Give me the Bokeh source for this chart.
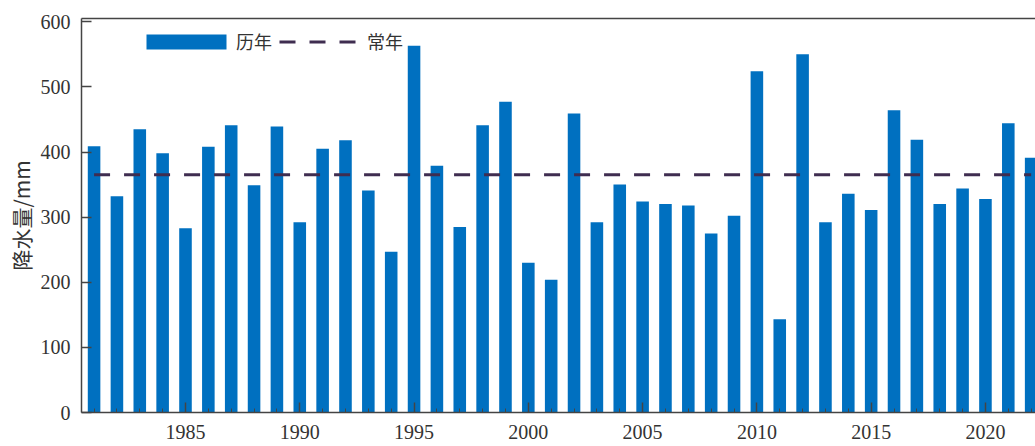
from bokeh.plotting import figure
from bokeh.models import Range1d, LinearAxis, Legend, LegendItem, FixedTicker
from bokeh.embed import file_html
from bokeh.resources import INLINE

years = list(range(1981, 2023))
precip = [409, 332, 435, 398, 283, 408, 441, 349, 439, 292,
          405, 418, 341, 247, 563, 379, 285, 441, 477, 230,
          204, 459, 292, 350, 324, 320, 318, 275, 302, 524,
          143, 550, 292, 336, 311, 464, 419, 320, 344, 328,
          444, 391]
normal_value = 365
y_ticks = [0, 100, 200, 300, 400, 500, 600]
x_ticks = [1985, 1990, 1995, 2000, 2005, 2010, 2015, 2020]

BLUE = "#0070C0"
DASH = "#3F2D50"
AXC = "#444444"
TXT = "#333333"

p = figure(width=1035, height=446, output_backend="svg", toolbar_location=None,
           x_range=Range1d(1980.45, 2022.19), y_range=Range1d(0, 605),
           min_border_left=81, min_border_right=0, min_border_top=18, min_border_bottom=34)
p.xgrid.visible = False
p.ygrid.visible = False
p.outline_line_color = None
p.background_fill_color = "white"

bars = p.vbar(x=years, top=precip, width=0.55, fill_color=BLUE, line_color=None)
ln = p.line(x=[years[0], years[-1]], y=[normal_value, normal_value],
            line_color=DASH, line_width=3, line_dash="16 14")

xa = p.xaxis[0]
xa.ticker = FixedTicker(ticks=x_ticks, minor_ticks=years)
xa.major_tick_in = 10
xa.major_tick_out = 0
xa.minor_tick_in = 4
xa.minor_tick_out = 0
xa.axis_line_color = AXC
xa.axis_line_width = 1.5
xa.major_tick_line_color = AXC
xa.minor_tick_line_color = AXC
xa.major_tick_line_width = 1.5
xa.major_label_text_font = "Liberation Serif"
xa.major_label_text_font_size = "20px"
xa.major_label_text_color = TXT
xa.major_label_standoff = 12

ya = p.yaxis[0]
ya.ticker = FixedTicker(ticks=y_ticks)
ya.major_tick_in = 10
ya.major_tick_out = 0
ya.minor_tick_line_color = None
ya.axis_line_color = AXC
ya.axis_line_width = 1.5
ya.major_tick_line_color = AXC
ya.major_tick_line_width = 1.5
ya.major_label_text_font = "Liberation Serif"
ya.major_label_text_font_size = "20px"
ya.major_label_text_color = TXT
ya.major_label_standoff = 11
ya.axis_label = "降水量/mm"
ya.axis_label_text_font = "Noto Sans CJK SC"
ya.axis_label_text_font_size = "21px"
ya.axis_label_text_font_style = "normal"
ya.axis_label_text_color = TXT
ya.axis_label_standoff = 2

top_axis = LinearAxis(ticker=FixedTicker(ticks=[]), major_tick_line_color=None,
                      minor_tick_line_color=None, axis_line_color=AXC,
                      axis_line_width=1.5)
p.add_layout(top_axis, "above")

common = dict(orientation="horizontal", padding=0, margin=0,
              border_line_color=None, background_fill_alpha=0,
              label_text_font="Noto Sans CJK SC", label_text_font_size="18px",
              label_text_color=TXT, glyph_height=19, label_height=19)

legend_bar = Legend(items=[LegendItem(label="历年", renderers=[bars])],
                    location=(55, 358), glyph_width=100, label_standoff=-3, **common)
legend_line = Legend(items=[LegendItem(label="常年", renderers=[ln])],
                     location=(198, 358), glyph_width=81, label_standoff=7, **common)
p.add_layout(legend_bar)
p.add_layout(legend_line)

open("out.html", "w").write(file_html(p, INLINE))
